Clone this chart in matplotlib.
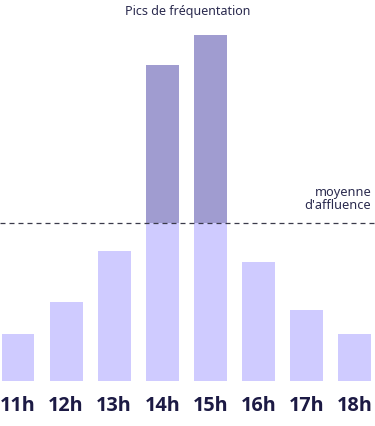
import matplotlib
matplotlib.use("Agg")
import matplotlib.pyplot as plt

hours = ["11h", "12h", "13h", "14h", "15h", "16h", "17h", "18h"]
affluence = [47, 79, 130, 316, 346, 119, 71, 47]
moyenne = 158

light = "#CFCBFF"
dark = "#A09CD0"
navy = "#1C1A44"

W, H = 375, 426
fig = plt.figure(figsize=(W / 100, H / 100), dpi=100)
ax = fig.add_axes([0, (H - 381) / H, 1, 361 / H])

x = list(range(len(hours)))
below = [min(v, moyenne) for v in affluence]
above = [max(v - moyenne, 0) for v in affluence]
ax.bar(x, below, width=0.686, color=light, edgecolor="none")
ax.bar(x, above, bottom=moyenne, width=0.686, color=dark, edgecolor="none")

ax.axhline(moyenne, color="#3a3a4a", lw=0.9, ls=(0, (4, 3.2)), zorder=3)
ax.text(0.99, moyenne + 11, "moyenne\nd'affluence", transform=ax.get_yaxis_transform(),
        ha="right", va="bottom", fontsize=9.2, color="#2a2a4e", family="Noto Sans",
        linespacing=1.0)

ax.set_xlim(-18 / 48.1, (W - 18) / 48.1)
ax.set_ylim(0, 361)
ax.set_xticks(x)
ax.set_xticklabels(hours, fontsize=14.3, fontweight="bold", color=navy, family="Open Sans")
ax.tick_params(axis="x", length=0, pad=10.5)
ax.set_yticks([])
for s in ax.spines.values():
    s.set_visible(False)

fig.text(0.5, 1 - 11 / H, "Pics de fréquentation", ha="center", va="center",
         fontsize=9, color="#2a2a4e", family="Noto Sans")

fig.savefig("out.png", dpi=100)
